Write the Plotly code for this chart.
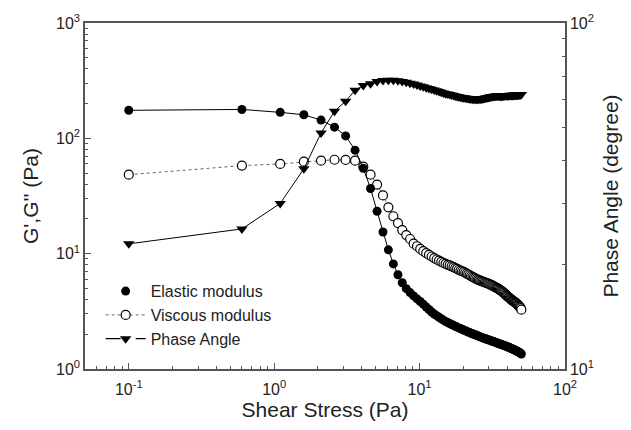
import plotly.graph_objects as go

# Shear stress (Pa)
stress = [
    0.1, 0.6, 1.1, 1.6, 2.1, 2.6, 3.1, 3.6, 4.1, 4.6,
    5.1, 5.6, 6.1, 6.6, 7.1, 7.6, 8.1, 8.6, 9.1, 9.6,
    10.1, 10.6, 11.1, 11.6, 12.1, 12.6, 13.1, 13.6, 14.1, 14.6,
    15.1, 15.6, 16.1, 16.6, 17.1, 17.6, 18.1, 18.6, 19.1, 19.6,
    20.1, 20.6, 21.1, 21.6, 22.1, 22.6, 23.1, 23.6, 24.1, 24.6,
    25.1, 25.6, 26.1, 26.6, 27.1, 27.6, 28.1, 28.6, 29.1, 29.6,
    30.1, 30.6, 31.1, 31.6, 32.1, 32.6, 33.1, 33.6, 34.1, 34.6,
    35.1, 35.6, 36.1, 36.6, 37.1, 37.6, 38.1, 38.6, 39.1, 39.6,
    40.1, 40.6, 41.1, 41.6, 42.1, 42.6, 43.1, 43.6, 44.1, 44.6,
    45.1, 45.6, 46.1, 46.6, 47.1, 47.6, 48.1, 48.6, 49.1, 49.6,
    50.1,
]

# Elastic modulus G' (Pa)
elastic = [
    175, 178, 168, 160, 144, 125, 105, 79, 55, 36.7,
    23.3, 15.4, 10.8, 8.15, 6.56, 5.6, 4.97, 4.6, 4.3, 4.05,
    3.85, 3.65, 3.45, 3.28, 3.12, 3.0, 2.9, 2.81, 2.73, 2.65,
    2.58, 2.53, 2.48, 2.43, 2.39, 2.35, 2.31, 2.27, 2.24, 2.21,
    2.18, 2.15, 2.12, 2.09, 2.07, 2.04, 2.02, 2.0, 1.98, 1.96,
    1.94, 1.92, 1.9, 1.88, 1.87, 1.85, 1.84, 1.82, 1.81, 1.79,
    1.78, 1.77, 1.76, 1.74, 1.73, 1.72, 1.71, 1.70, 1.68, 1.67,
    1.66, 1.65, 1.64, 1.63, 1.62, 1.61, 1.60, 1.59, 1.58, 1.57,
    1.56, 1.55, 1.54, 1.53, 1.52, 1.51, 1.50, 1.49, 1.48, 1.47,
    1.46, 1.45, 1.44, 1.43, 1.42, 1.41, 1.40, 1.39, 1.38, 1.36,
    1.35,
]

# Viscous modulus G'' (Pa)
viscous = [
    48.4, 58, 60, 62.7, 64, 65.2, 65, 64, 56.8, 48.4,
    39.7, 32, 25.2, 21.1, 18.4, 16.0, 14.5, 13.4, 12.2, 11.6,
    11.0, 10.5, 10.1, 9.75, 9.45, 9.15, 8.9, 8.7, 8.5, 8.3,
    8.15, 8.0, 7.9, 7.77, 7.64, 7.5, 7.37, 7.25, 7.13, 7.04,
    6.95, 6.83, 6.72, 6.6, 6.5, 6.4, 6.3, 6.2, 6.1, 6.03,
    5.96, 5.9, 5.84, 5.78, 5.73, 5.68, 5.63, 5.58, 5.54, 5.5,
    5.46, 5.4, 5.35, 5.3, 5.24, 5.19, 5.13, 5.08, 5.03, 4.98,
    4.92, 4.86, 4.80, 4.74, 4.68, 4.62, 4.56, 4.49, 4.42, 4.35,
    4.29, 4.23, 4.17, 4.11, 4.06, 4.01, 3.96, 3.92, 3.88, 3.84,
    3.80, 3.76, 3.72, 3.68, 3.63, 3.58, 3.53, 3.48, 3.43, 3.37,
    3.27,
]

# Phase angle (degree)
phase = [
    23.0, 25.4, 30.1, 37.9, 48.1, 55.6, 59.4, 63.9, 66.0, 66.8,
    67.7, 68.2, 68.3, 68.3, 68.1, 67.8, 67.4, 67.0, 66.6, 66.2,
    65.8, 65.4, 65.0, 64.7, 64.4, 64.0, 63.7, 63.4, 63.1, 62.8,
    62.5, 62.3, 62.1, 61.9, 61.7, 61.5, 61.3, 61.2, 61.0, 60.9,
    60.8, 60.7, 60.6, 60.5, 60.4, 60.3, 60.3, 60.2, 60.2, 60.2,
    60.2, 60.2, 60.3, 60.3, 60.4, 60.5, 60.6, 60.7, 60.8, 60.9,
    61.0, 61.1, 61.2, 61.3, 61.3, 61.4, 61.4, 61.5, 61.5, 61.5,
    61.5, 61.5, 61.4, 61.4, 61.5, 61.5, 61.6, 61.6, 61.7, 61.7,
    61.6, 61.6, 61.7, 61.7, 61.8, 61.8, 61.7, 61.7, 61.8, 61.8,
    61.9, 61.9, 61.8, 61.8, 61.9, 61.9, 62.0, 62.0, 62.0, 62.1,
    62.1,
]

x_tickvals = [0.1, 1, 10, 100]
x_ticktext = ["10<sup>-1</sup>", "10<sup>0</sup>", "10<sup>1</sup>", "10<sup>2</sup>"]
y_tickvals = [1, 10, 100, 1000]
y_ticktext = ["10<sup>0</sup>", "10<sup>1</sup>", "10<sup>2</sup>", "10<sup>3</sup>"]
y2_tickvals = [10, 100]
y2_ticktext = ["10<sup>1</sup>", "10<sup>2</sup>"]

FONT = "Liberation Sans, Arial, sans-serif"
TXT = "#222222"
AX = "#555555"

x_minor = [m * 10 ** e for e in (-2, -1, 0, 1) for m in range(2, 10) if 0.05 <= m * 10 ** e <= 100]
y_minor = [m * 10 ** e for e in (0, 1, 2) for m in range(2, 10)]
y2_minor = [m * 10 for m in range(2, 10)]

fig = go.Figure()

fig.add_trace(go.Scatter(
    x=stress, y=viscous, mode="lines+markers", showlegend=False,
    line=dict(color="#666666", width=1, dash="dot"),
    marker=dict(symbol="circle", size=9, color="white", line=dict(color="black", width=1.2)),
))
fig.add_trace(go.Scatter(
    x=stress, y=elastic, mode="lines+markers", showlegend=False,
    line=dict(color="black", width=1),
    marker=dict(symbol="circle", size=9, color="black"),
))
fig.add_trace(go.Scatter(
    x=stress, y=phase, mode="lines+markers", showlegend=False, yaxis="y2",
    line=dict(color="black", width=1),
    marker=dict(symbol="triangle-down", size=10, color="black"),
))

# legend entries
fig.add_trace(go.Scatter(
    x=[None], y=[None], mode="markers", name="Elastic modulus",
    marker=dict(symbol="circle", size=9, color="black"),
))
fig.add_trace(go.Scatter(
    x=[None], y=[None], mode="lines+markers", name="Viscous modulus",
    line=dict(color="#666666", width=1, dash="dot"),
    marker=dict(symbol="circle", size=9, color="white", line=dict(color="black", width=1.2)),
))
fig.add_trace(go.Scatter(
    x=[None], y=[None], mode="lines+markers", name="Phase Angle",
    line=dict(color="black", width=1.3, dash="longdash"),
    marker=dict(symbol="triangle-down", size=10, color="black"),
))

fig.update_layout(
    width=631, height=430,
    margin=dict(l=85, r=55, t=20, b=61),
    paper_bgcolor="white", plot_bgcolor="white",
    font=dict(family=FONT, color=TXT, size=16),
    xaxis=dict(
        type="log", range=[-1.30103, 2],
        tickvals=x_tickvals, ticktext=x_ticktext,
        ticks="inside", ticklen=6, tickwidth=1, tickcolor=AX,
        minor=dict(tickvals=x_minor, ticks="inside", ticklen=3, tickcolor=AX, showgrid=False),
        showline=True, linecolor=AX, linewidth=1.5, mirror=True,
        showgrid=False, zeroline=False,
        ticklabelstandoff=5,
        tickfont=dict(size=16, color=TXT),
        title=dict(text="Shear Stress (Pa)", font=dict(size=21, color=TXT), standoff=4),
    ),
    yaxis=dict(
        type="log", range=[0, 3],
        tickvals=y_tickvals, ticktext=y_ticktext,
        ticks="inside", ticklen=6, tickwidth=1, tickcolor=AX,
        minor=dict(tickvals=y_minor, ticks="inside", ticklen=3, tickcolor=AX, showgrid=False),
        showline=True, linecolor=AX, linewidth=1.5,
        showgrid=False, zeroline=False,
        tickfont=dict(size=16, color=TXT),
        title=dict(text="G',G'' (Pa)", font=dict(size=21, color=TXT), standoff=12),
    ),
    yaxis2=dict(
        type="log", range=[1, 2], overlaying="y", side="right",
        tickvals=y2_tickvals, ticktext=y2_ticktext,
        ticks="inside", ticklen=6, tickwidth=1, tickcolor=AX,
        minor=dict(tickvals=y2_minor, ticks="inside", ticklen=3, tickcolor=AX, showgrid=False),
        showline=True, linecolor=AX, linewidth=1.5,
        showgrid=False, zeroline=False,
        tickfont=dict(size=16, color=TXT),
        title=dict(text="Phase Angle (degree)", font=dict(size=21, color=TXT), standoff=10),
    ),
    legend=dict(
        x=0.0326, y=0.274, xanchor="left", yanchor="top",
        bgcolor="rgba(0,0,0,0)", font=dict(size=16, color=TXT),
        itemwidth=40, tracegroupgap=0,
    ),
)

fig.write_html("out.html")
